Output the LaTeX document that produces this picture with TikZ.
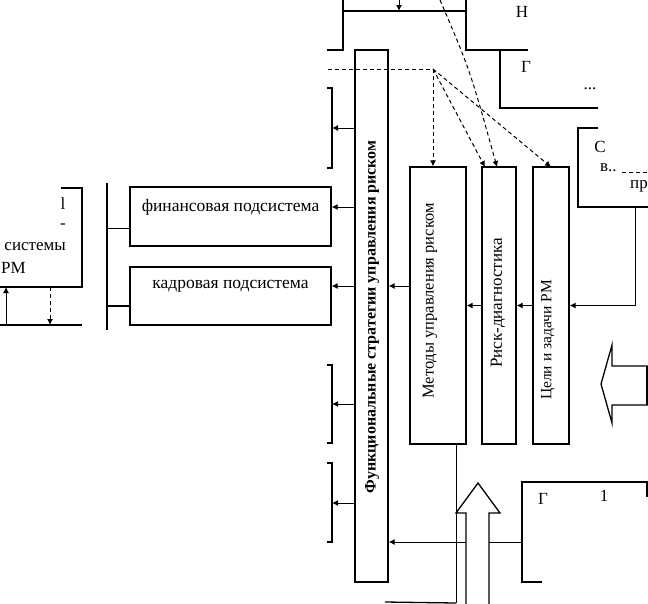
\documentclass[tikz,border=0pt]{standalone}
\usepackage{fontspec}
\setmainfont{Liberation Serif}
\usetikzlibrary{arrows.meta}
\begin{document}
\begin{tikzpicture}[x=1pt,y=-1pt,
  box/.style={draw, line width=1.3pt, inner sep=0pt},
  thick line/.style={line width=1.8pt},
  conn/.style={line width=1pt},
  arr/.style={line width=1pt, -{Latex[length=6pt,width=6pt]}},
  darr/.style={line width=1pt, dash pattern=on 4pt off 3pt, -{Latex[length=6pt,width=6pt]}},
  dline/.style={line width=1pt, dash pattern=on 4pt off 3pt},
  lbl/.style={font=\fontsize{17.5}{19}\selectfont, inner sep=0pt},
  vlbl/.style={font=\fontsize{16.5}{18}\selectfont, rotate=90, inner sep=0pt},
  frag/.style={font=\fontsize{17}{19}\selectfont, inner sep=0pt},
  bigarrow/.style={draw, line width=1.3pt, fill=white},
]
\useasboundingbox (0,0) rectangle (648,603);
\clip (0,0) rectangle (648,603);

% ---- main boxes ----
\node[box, minimum width=33pt, minimum height=532pt] (strat) at (371.5,316) {};
\node[vlbl, font=\fontsize{16}{18}\selectfont\bfseries] (stratT) at (372,317) {Функциональные стратегии управления риском};

\node[box, minimum width=56pt, minimum height=277pt] (meth) at (438,305.5) {};
\node[vlbl] (methT) at (430,301) {Методы управления риском};

\node[box, minimum width=34pt, minimum height=277pt] (risk) at (499,305.5) {};
\node[vlbl, font=\fontsize{17}{19}\selectfont] (riskT) at (498,303) {Риск-диагностика};

\node[box, minimum width=36pt, minimum height=277pt] (goal) at (551,305.5) {};
\node[vlbl, font=\fontsize{15.5}{17}\selectfont] (goalT) at (548,340) {Цели и задачи РМ};

\node[box, minimum width=201pt, minimum height=59pt] (fin) at (230.5,216.5) {};
\node[lbl] (finT) at (230.5,207) {финансовая подсистема};

\node[box, minimum width=201pt, minimum height=58pt] (kadr) at (230.5,296) {};
\node[lbl] (kadrT) at (230.5,286) {кадровая подсистема};

% ---- top step frame ----
\draw[thick line] (327,50) -- (343,50) -- (343,0);
\draw[thick line] (343,11) -- (466,11);
\draw[thick line] (466,0) -- (466,50) -- (528,50);
\coordinate (topA) at (399,0);
\coordinate (topB) at (399,11);
\draw[arr] (topA) -- (topB);

% top right box "Г"
\draw[thick line] (500,50) -- (500,108) -- (598,108);
\node[frag] (fragH) at (522,12) {Н};
\node[frag] (fragG1) at (526,67) {Г};
\node[frag] (fragD1) at (590,89) {...};

% right box "С"
\draw[line width=1.3pt] (598,128) -- (578,128) -- (578,207) -- (648,207);
\node[frag] (fragC) at (600,147) {С};
\node[frag, anchor=west] (fragV) at (600,168) {в..};
\coordinate (vd1) at (622,172);
\coordinate (vd2) at (648,172);
\draw[dline] (vd1) -- (vd2);
\node[frag, anchor=west] (fragP) at (630,186) {пр};
\coordinate (cOut) at (635,207);
\draw[arr] (cOut) -- (cOut |- goal.east) -- (goal.east);

% arrows between vertical boxes
\draw[arr] (goal.west) -- (risk.east);
\draw[arr] (risk.west) -- (meth.east);
\coordinate (mS) at (410,286);
\draw[arr] (mS) -- (strat.east |- mS);

% dashed connectors
\coordinate (dL) at (328,69);
\coordinate (d0) at (433,69);
\coordinate (r1) at (485,167);
\coordinate (r2) at (497,167);
\coordinate (g1) at (551,167);
\coordinate (dTop) at (440,0);
\draw[dline] (dL) -- (d0);
\draw[darr] (d0) -- (d0 |- meth.north);
\draw[darr] (d0) -- (r1);
\draw[darr] (d0) -- (g1);
\draw[darr] (dTop) .. controls (470,70) .. (r2);

% brackets on the left of strat
\foreach \t/\b/\m/\n in {88/168/128/1, 365/443/404/4, 463/542/503/5}{
  \coordinate (bk\n) at (332,\m);
  \draw[line width=1.3pt] (327,\t) -- (332,\t) -- (332,\b) -- (327,\b);
  \draw[arr] (strat.west |- bk\n) -- (bk\n);
}
\coordinate (fa) at (fin.east |- 0,207);
\coordinate (ka) at (kadr.east |- 0,286);
\draw[arr] (strat.west |- fa) -- (fa);
\draw[arr] (strat.west |- ka) -- (ka);

% left bus
\coordinate (busT) at (107,183);
\coordinate (busB) at (107,330);
\draw[line width=1.5pt] (busT) -- (busB);
\draw[conn] (busT |- 0,228) -- (fin.west |- 0,228);
\draw[line width=1.3pt] (busT |- 0,306) -- (kadr.west |- 0,306);

% left box
\draw[line width=1.5pt] (61,188) -- (82,188) -- (82,287) -- (0,287);
\draw[line width=1.3pt] (0,325) -- (82,325);
\node[frag] (fragL1) at (63,204) {l};
\node[frag] (fragL2) at (63,226) {-};
\node[frag, anchor=east] (fragS) at (66,247) {системы};
\node[frag, anchor=east] (fragR) at (26,268) {РМ};
\coordinate (lu1) at (6,325);
\coordinate (lu2) at (6,287);
\draw[arr] (lu1) -- (lu2);
\coordinate (ld1) at (50,287);
\coordinate (ld2) at (50,325);
\draw[darr] (ld1) -- (ld2);

% bottom region
\coordinate (mB) at (456,603);
\draw[conn] (meth.south -| mB) -- (mB);
\draw[line width=1.3pt] (385,602) -- (mB);
\coordinate (gB) at (522,542);
\draw[arr] (gB) -- (strat.east |- gB);
\draw[line width=1.8pt] (542,582) -- (522,582) -- (522,482) -- (647,482) -- (647,497);
\node[frag] (fragG2) at (543,499) {Г};
\node[frag] (frag1) at (604,496) {1};

% big up arrow
\draw[bigarrow] (466,604) -- (466,513) -- (456,513) -- (478,483) -- (500,513) -- (489,513) -- (489,604);

% big left arrow
\draw[bigarrow] (648,366) -- (612,366) -- (612,345) -- (601,384) -- (612,423) -- (612,405) -- (648,405);
\draw[line width=1.3pt] (647,366) -- (647,405);
\end{tikzpicture}
\end{document}
